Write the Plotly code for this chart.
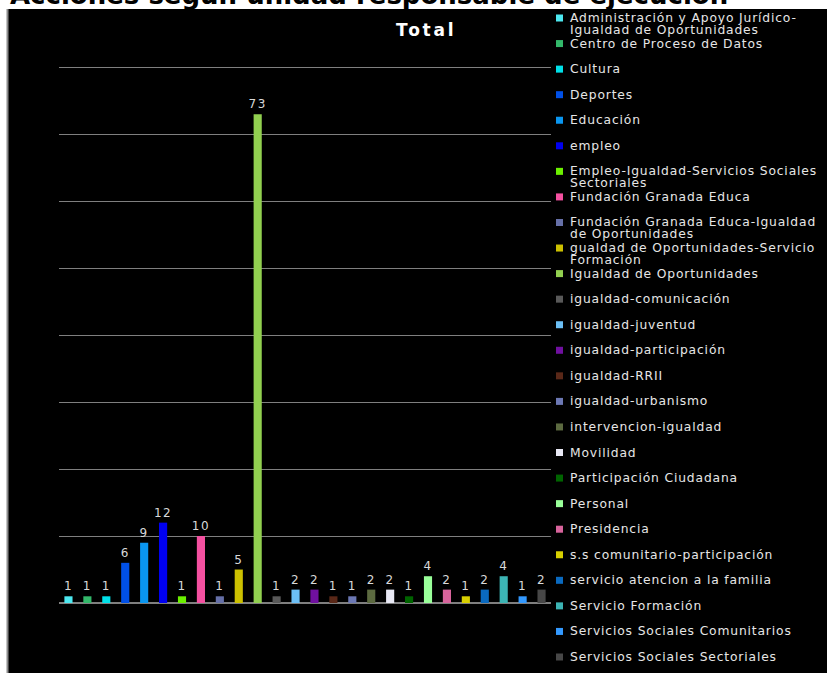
import textwrap
import plotly.graph_objects as go

# Data
unidades = [
    "Administración y Apoyo Jurídico-Igualdad de Oportunidades",
    "Centro de Proceso de Datos",
    "Cultura",
    "Deportes",
    "Educación",
    "empleo",
    "Empleo-Igualdad-Servicios Sociales Sectoriales",
    "Fundación Granada Educa",
    "Fundación Granada Educa-Igualdad de Oportunidades",
    "gualdad de Oportunidades-Servicio Formación",
    "Igualdad de Oportunidades",
    "igualdad-comunicación",
    "igualdad-juventud",
    "igualdad-participación",
    "igualdad-RRII",
    "igualdad-urbanismo",
    "intervencion-igualdad",
    "Movilidad",
    "Participación Ciudadana",
    "Personal",
    "Presidencia",
    "s.s comunitario-participación",
    "servicio atencion a la familia",
    "Servicio Formación",
    "Servicios Sociales Comunitarios",
    "Servicios Sociales Sectoriales",
]
acciones = [1, 1, 1, 6, 9, 12, 1, 10, 1, 5, 73, 1, 2, 2, 1, 1, 2, 2, 1, 4, 2, 1, 2, 4, 1, 2]
colores = [
    "#4DE8F0", "#33B86A", "#00E0E8", "#0050E8", "#0A96F0", "#0000F0", "#6CF000",
    "#F450A0", "#6670A8", "#CCC000", "#92D050", "#595959", "#6CBFF5", "#7010A0",
    "#5A2818", "#6C78B4", "#5C6A40", "#E8E8F4", "#006400", "#99FF99", "#D8649C",
    "#D8D000", "#0A6AC0", "#3CB4B4", "#3399FF", "#474747",
]

W, H = 827, 673
ML, MR, MT, MB = 59, 276, 64, 70
PW, PH = W - ML - MR, H - MT - MB


def px2x(px):
    return (px - ML) / PW


def px2y(py):
    return (H - MB - py) / PH


fig = go.Figure(go.Bar(
    x=unidades, y=acciones,
    marker=dict(color=colores, line=dict(width=0)),
    width=0.43,
    texttemplate='<span style="letter-spacing:1.5px">%{y}</span>',
    textposition="outside", constraintext="none",
    textfont=dict(family="DejaVu Sans", size=12, color="#D9D9D9"),
    cliponaxis=False,
    showlegend=False,
    hoverinfo="x+y",
))

# chart background and border
fig.add_shape(type="rect", xref="paper", yref="paper",
              x0=px2x(8), x1=px2x(W + 2), y0=px2y(9), y1=px2y(H + 2),
              fillcolor="black", line=dict(width=0), layer="below")
fig.add_shape(type="line", xref="paper", yref="paper",
              x0=px2x(7.5), x1=px2x(7.5), y0=px2y(9), y1=px2y(H + 2),
              line=dict(color="#8C8C8C", width=2), layer="below")

annotations = [
    dict(text="<b>Acciones según unidad responsable de ejecución</b>",
         x=px2x(8), y=px2y(12), xref="paper", yref="paper",
         xanchor="left", yanchor="bottom", showarrow=False,
         font=dict(family="DejaVu Sans", size=26, color="black")),
    dict(text='<span style="letter-spacing:2.8px"><b>Total</b></span>',
         x=px2x(426), y=px2y(30), xref="paper", yref="paper",
         xanchor="center", yanchor="middle", showarrow=False,
         font=dict(family="DejaVu Sans", size=17, color="white")),
]

# manual legend
y0_leg, step = 18, 25.56
for i, (name, col) in enumerate(zip(unidades, colores)):
    yc = y0_leg + i * step
    fig.add_shape(type="rect", xref="paper", yref="paper",
                  x0=px2x(556), x1=px2x(563), y0=px2y(yc - 3.5), y1=px2y(yc + 3.5),
                  fillcolor=col, line=dict(width=0))
    for j, line in enumerate(textwrap.wrap(name, 34)):
        annotations.append(dict(
            text='<span style="letter-spacing:0.85px">' + line + '</span>',
            x=px2x(568), y=px2y(yc + 12 * j), xref="paper", yref="paper",
            xanchor="left", yanchor="middle", showarrow=False,
            font=dict(family="DejaVu Sans", size=12.3, color="#E6E6E6")))

fig.update_layout(
    width=W, height=H,
    margin=dict(l=ML, r=MR, t=MT, b=MB, pad=0),
    paper_bgcolor="white", plot_bgcolor="black",
    annotations=annotations,
    xaxis=dict(showticklabels=False, showgrid=False, ticks="", range=[-0.5, len(unidades) - 0.5]),
    yaxis=dict(range=[0, 80.5], tickvals=list(range(10, 81, 10)), showticklabels=False, ticks="",
               showgrid=True, gridcolor="#7F7F7F", gridwidth=1,
               zeroline=True, zerolinecolor="#7F7F7F", zerolinewidth=2),
    bargap=0.55,
)

fig.write_html("out.html", config={"displayModeBar": False},
               post_script="document.body.style.margin='0';")
